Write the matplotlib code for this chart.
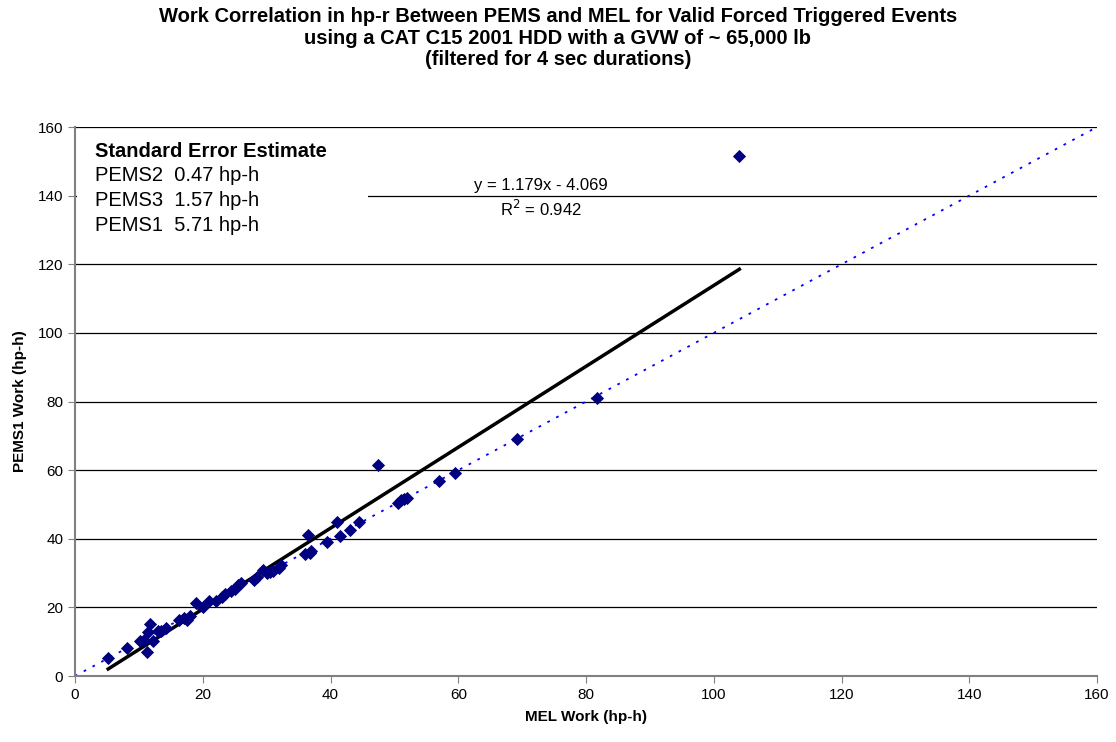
import numpy as np
import matplotlib.pyplot as plt

plt.rcParams['font.family'] = ['Liberation Sans', 'DejaVu Sans']

mel = [5.2, 8.2, 10.2, 10.8, 11.3, 11.5, 11.7, 12.2, 13.0, 13.5, 14.3, 16.3, 17.0, 17.5,
       18.0, 19.0, 20.0, 21.0, 22.0, 23.0, 23.5, 24.5, 25.0, 25.5, 26.0, 28.0, 28.5, 29.5,
       30.0, 30.5, 31.0, 32.0, 32.3, 36.0, 36.5, 36.8, 37.0, 39.5, 41.0, 41.5, 43.0, 44.5,
       47.5, 50.5, 51.0, 51.5, 52.0, 57.0, 59.5, 69.2, 81.7, 104.0]
pems1 = [5.2, 8.2, 10.3, 10.6, 7.0, 12.8, 15.3, 10.2, 13.0, 13.2, 14.0, 16.3, 16.8, 16.2,
         17.5, 21.2, 20.0, 21.8, 22.0, 23.0, 24.0, 24.8, 25.3, 26.5, 27.2, 28.0, 28.8, 30.8,
         30.0, 30.3, 30.5, 31.5, 32.5, 35.5, 41.0, 36.0, 36.5, 39.0, 44.8, 40.8, 42.5, 44.8,
         61.6, 50.5, 51.2, 51.5, 52.0, 56.7, 59.3, 69.2, 81.0, 151.5]

slope = 1.179
intercept = -4.069
fit_x = [5.2, 104.0]
ticks = [0, 20, 40, 60, 80, 100, 120, 140, 160]

fig = plt.figure(figsize=(11.16, 7.42), dpi=100)
ax = fig.add_axes([0.0672, 0.0889, 0.9158, 0.7399])

ax.set_xlim(0, 160)
ax.set_ylim(0, 160)
ax.set_xticks(ticks)
ax.set_yticks(ticks)
for t in ticks[1:]:
    ax.axhline(t, color='black', lw=0.9, zorder=1)

ax.plot([0, 160], [0, 160], color='#0000FF', lw=1.3, linestyle=(0, (1.5, 4)), zorder=2)
fx = np.array(fit_x)
ax.plot(fx, slope * fx + intercept, color='black', lw=2.5, zorder=3)
ax.scatter(mel, pems1, marker='D', s=45, color='#000080', zorder=4, linewidths=0)

for s in ['top', 'right']:
    ax.spines[s].set_visible(False)
for s in ['left', 'bottom']:
    ax.spines[s].set_color('#808080')
    ax.spines[s].set_linewidth(1.5)
ax.tick_params(direction='out', length=5, labelsize=11, color='#808080')

ax.set_xlabel('MEL Work (hp-h)', fontsize=11, fontweight='bold', labelpad=6)
ax.set_ylabel('PEMS1 Work (hp-h)', fontsize=11, fontweight='bold', labelpad=8)

fig.suptitle('Work Correlation in hp-r Between PEMS and MEL for Valid Forced Triggered Events\n'
             'using a CAT C15 2001 HDD with a GVW of ~ 65,000 lb\n'
             '(filtered for 4 sec durations)',
             fontsize=14.5, fontweight='bold', y=0.99, linespacing=1.15)

# legend-like text box
ax.add_patch(plt.Rectangle((0.3, 124), 45.5, 34, facecolor='white', edgecolor='none', zorder=1.5))
ax.text(3.1, 153.0, 'Standard Error Estimate', fontsize=14.5, fontweight='bold', va='center', zorder=5)
ax.text(3.1, 146.0, 'PEMS2  0.47 hp-h', fontsize=14.5, va='center', zorder=5)
ax.text(3.1, 138.7, 'PEMS3  1.57 hp-h', fontsize=14.5, va='center', zorder=5)
ax.text(3.1, 131.4, 'PEMS1  5.71 hp-h', fontsize=14.5, va='center', zorder=5)

ax.text(73.0, 143.1, 'y = 1.179x - 4.069', fontsize=12, ha='center', va='center', zorder=5)
ax.text(73.0, 136.2, 'R$^2$ = 0.942', fontsize=12, ha='center', va='center', zorder=5)

fig.savefig('out.png', dpi=100)
